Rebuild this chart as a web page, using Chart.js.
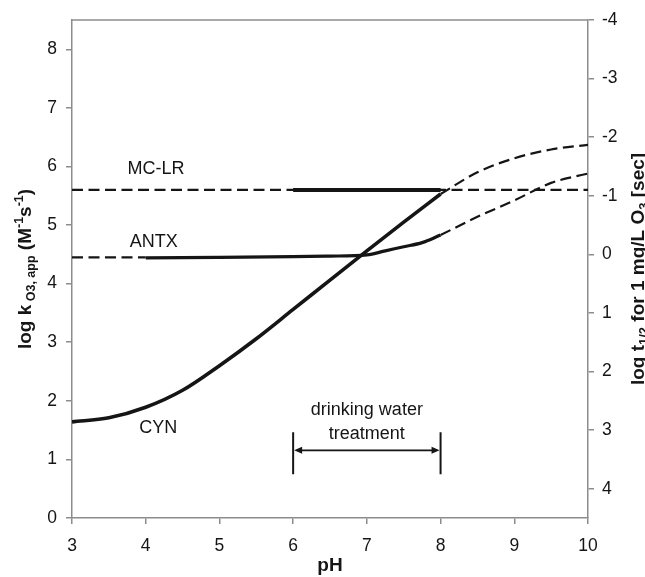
<!DOCTYPE html>
<html>
<head>
<meta charset="utf-8">
<script src="https://cdn.jsdelivr.net/npm/chart.js@4.4.1/dist/chart.umd.min.js"></script>
<style>
    html, body { margin: 0; padding: 0; background: #fff; }
    #wrap { width: 645px; height: 577px; }
</style>
</head>
<body>
<div id="wrap"><canvas id="chart" width="645" height="577"></canvas></div>
<script>
// 轴刻度
const phTicks = [3, 4, 5, 6, 7, 8, 9, 10];
const logKTicks = [0, 1, 2, 3, 4, 5, 6, 7, 8];
const halfLifeTicks = [-4, -3, -2, -1, 0, 1, 2, 3, 4];

// CYN: 实线 pH 3-8, 虚线外推 pH 8-10
const cynPH = [3, 3.5, 4, 4.5, 5, 5.5, 6, 6.5, 7, 7.5, 8];
const cynLogK = [1.64, 1.71, 1.89, 2.18, 2.60, 3.06, 3.56, 4.06, 4.56, 5.05, 5.53];
const cynExtPH = [8, 8.5, 9, 9.5, 10];
const cynExtLogK = [5.53, 5.90, 6.14, 6.29, 6.37];

// ANTX
const antxLeftPH = [3, 4];
const antxLeftLogK = [4.45, 4.45];
const antxPH = [4, 5, 6, 6.5, 7, 7.25, 7.5, 7.75, 8];
const antxLogK = [4.44, 4.45, 4.46, 4.47, 4.49, 4.56, 4.63, 4.70, 4.83];
const antxExtPH = [8, 8.5, 9, 9.5, 10];
const antxExtLogK = [4.83, 5.14, 5.42, 5.72, 5.88];

// MC-LR
const mclrDashPH = [3, 10];
const mclrDashLogK = [5.6, 5.6];
const mclrPH = [6, 8];
const mclrLogK = [5.6, 5.6];

// 标注 (数据坐标)
const labelNames = ['MC-LR', 'ANTX', 'CYN'];
const labelPH = [4.14, 4.11, 4.17];
const labelLogK = [5.96, 4.71, 1.53];
const rangePH = [6, 8];
const rangeLogK = 1.155;
const rangeText = ['drinking water', 'treatment'];
const rangeTextLogK = [1.84, 1.43];

const FONT = "'Liberation Sans', Arial, sans-serif";
const AXIS_GRAY = '#8c8c8c';
const INK = '#151515';

function pts(xs, ys) {
    return xs.map((x, i) => ({ x: x, y: ys[i] }));
}

function line(xs, ys, width, dashed) {
    return {
        data: pts(xs, ys),
        borderColor: INK,
        borderWidth: width,
        borderDash: dashed ? [11, 5.5] : [],
        pointRadius: 0,
        cubicInterpolationMode: 'monotone',
        fill: false,
        yAxisID: 'y'
    };
}

function drawRich(ctx, parts, x, y, rotate) {
    ctx.save();
    ctx.translate(x, y);
    if (rotate) ctx.rotate(-Math.PI / 2);
    ctx.textBaseline = 'alphabetic';
    ctx.textAlign = 'left';
    let total = 0;
    parts.forEach(p => {
        ctx.font = `bold ${p.s}px ${FONT}`;
        p.w = ctx.measureText(p.t).width;
        total += p.w;
    });
    let cx = -total / 2;
    parts.forEach(p => {
        ctx.font = `bold ${p.s}px ${FONT}`;
        ctx.fillText(p.t, cx, p.dy || 0);
        cx += p.w;
    });
    ctx.restore();
}

const annotations = {
    id: 'annotations',
    afterDatasetsDraw(chart) {
        const ctx = chart.ctx;
        const xs = chart.scales.x;
        const ys = chart.scales.y;
        const area = chart.chartArea;

        // 图框上边
        ctx.save();
        ctx.strokeStyle = AXIS_GRAY;
        ctx.lineWidth = 1.5;
        ctx.beginPath();
        ctx.moveTo(area.left, area.top);
        ctx.lineTo(area.right, area.top);
        ctx.stroke();

        ctx.fillStyle = INK;
        ctx.font = `18px ${FONT}`;
        ctx.textAlign = 'center';
        ctx.textBaseline = 'middle';
        labelNames.forEach((name, i) => {
            ctx.fillText(name, xs.getPixelForValue(labelPH[i]), ys.getPixelForValue(labelLogK[i]));
        });

        const midPH = (rangePH[0] + rangePH[1]) / 2;
        rangeText.forEach((t, i) => {
            ctx.fillText(t, xs.getPixelForValue(midPH), ys.getPixelForValue(rangeTextLogK[i]));
        });

        // pH 范围箭头
        const x0 = xs.getPixelForValue(rangePH[0]);
        const x1 = xs.getPixelForValue(rangePH[1]);
        const ay = ys.getPixelForValue(rangeLogK);
        ctx.strokeStyle = INK;
        ctx.lineWidth = 1.6;
        ctx.beginPath();
        ctx.moveTo(x0 + 4, ay);
        ctx.lineTo(x1 - 4, ay);
        ctx.stroke();
        ctx.lineWidth = 2;
        ctx.beginPath();
        ctx.moveTo(x0, ay - 18);
        ctx.lineTo(x0, ay + 24);
        ctx.moveTo(x1, ay - 18);
        ctx.lineTo(x1, ay + 24);
        ctx.stroke();
        ctx.beginPath();
        ctx.moveTo(x0 + 1, ay);
        ctx.lineTo(x0 + 9, ay - 3.5);
        ctx.lineTo(x0 + 9, ay + 3.5);
        ctx.closePath();
        ctx.moveTo(x1 - 1, ay);
        ctx.lineTo(x1 - 9, ay - 3.5);
        ctx.lineTo(x1 - 9, ay + 3.5);
        ctx.closePath();
        ctx.fill();

        // 轴标题
        const midY = (area.top + area.bottom) / 2;
        drawRich(ctx, [
            { t: 'log k', s: 19 },
            { t: ' O3, app', s: 12.5, dy: 4 },
            { t: ' (M', s: 19 },
            { t: '-1', s: 12.5, dy: -8 },
            { t: 's', s: 19 },
            { t: '-1', s: 12.5, dy: -8 },
            { t: ')', s: 19 }
        ], 31, midY, true);
        drawRich(ctx, [
            { t: 'log t', s: 19 },
            { t: '1/2', s: 13, dy: 4 },
            { t: ' for 1 mg/L O', s: 19 },
            { t: '3', s: 13, dy: 4 },
            { t: ' [sec]', s: 19 }
        ], 644, midY, true);
        drawRich(ctx, [{ t: 'pH', s: 19 }], (area.left + area.right) / 2, 571, false);
        ctx.restore();
    }
};

function axisStyle(pad, extra) {
    return Object.assign({
        grid: { drawOnChartArea: false, tickLength: 6, color: AXIS_GRAY, lineWidth: 1.5 },
        border: { color: AXIS_GRAY, width: 1.5 },
        ticks: { color: INK, padding: pad, font: { family: FONT, size: 17.5 } }
    }, extra);
}

new Chart(document.getElementById('chart'), {
    type: 'line',
    data: {
        datasets: [
            line(mclrDashPH, mclrDashLogK, 2.2, true),
            line(mclrPH, mclrLogK, 4, false),
            line(antxLeftPH, antxLeftLogK, 2.2, true),
            line(antxPH, antxLogK, 3.2, false),
            line(antxExtPH, antxExtLogK, 2.2, true),
            line(cynPH, cynLogK, 3.6, false),
            line(cynExtPH, cynExtLogK, 2.2, true)
        ]
    },
    options: {
        responsive: false,
        animation: false,
        devicePixelRatio: 1,
        layout: { padding: { top: 20, left: 0, right: 0, bottom: 0 } },
        plugins: { legend: { display: false }, tooltip: { enabled: false } },
        scales: {
            x: axisStyle(12, {
                type: 'linear',
                position: 'bottom',
                min: 3,
                max: 10,
                afterBuildTicks: s => { s.ticks = phTicks.map(v => ({ value: v })); },
                afterFit: s => { s.height = 59; }
            }),
            y: axisStyle(9, {
                type: 'linear',
                position: 'left',
                min: 0,
                max: 8.5,
                afterBuildTicks: s => { s.ticks = logKTicks.map(v => ({ value: v })); },
                afterFit: s => { s.width = 72; }
            }),
            y2: axisStyle(8, {
                type: 'linear',
                position: 'right',
                min: -4,
                max: 4.5,
                reverse: true,
                afterBuildTicks: s => { s.ticks = halfLifeTicks.map(v => ({ value: v })); },
                afterFit: s => { s.width = 57; }
            })
        }
    },
    plugins: [annotations]
});
</script>
</body>
</html>
